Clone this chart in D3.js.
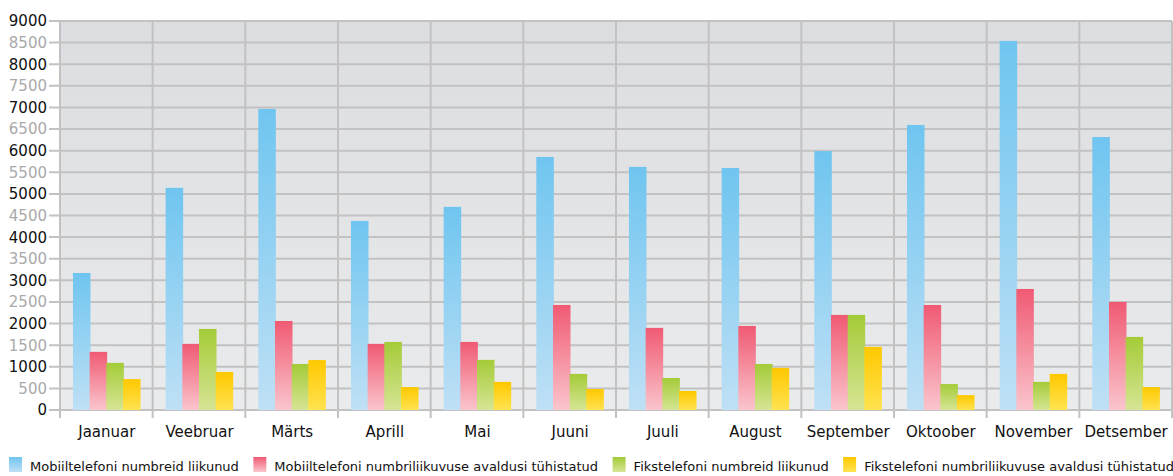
<!DOCTYPE html>
<html>
<head>
<meta charset="utf-8">
<script src="https://cdn.jsdelivr.net/npm/d3@7"></script>
<style>
  html, body { margin: 0; padding: 0; background: #fff; }
  svg { display: block; font-family: "DejaVu Sans", Verdana, sans-serif; }
</style>
</head>
<body>
<svg id="chart" width="1173" height="476"></svg>
<script>
// Monthly number porting statistics
const months = ["Jaanuar", "Veebruar", "Märts", "Aprill", "Mai", "Juuni", "Juuli", "August", "September", "Oktoober", "November", "Detsember"];
const seriesNames = [
  "Mobiiltelefoni numbreid liikunud",
  "Mobiiltelefoni numbriliikuvuse avaldusi tühistatud",
  "Fikstelefoni numbreid liikunud",
  "Fikstelefoni numbriliikuvuse avaldusi tühistatud"
];
const mobilePorted   = [3170, 5140, 6965, 4375, 4700, 5855, 5625, 5600, 5990, 6595, 8540, 6315];
const mobileCanceled = [1345, 1530, 2060, 1530, 1575, 2430, 1900, 1945, 2200, 2430, 2800, 2500];
const fixedPorted    = [1090, 1875, 1065, 1575, 1160, 835, 740, 1065, 2200, 600, 650, 1690];
const fixedCanceled  = [715, 880, 1155, 530, 650, 485, 440, 975, 1460, 345, 835, 530];
const yTicks = [0, 500, 1000, 1500, 2000, 2500, 3000, 3500, 4000, 4500, 5000, 5500, 6000, 6500, 7000, 7500, 8000, 8500, 9000];

const seriesValues = [mobilePorted, mobileCanceled, fixedPorted, fixedCanceled];
const palette = [
  { top: "#6fc5f0", bottom: "#bfe0f5" },
  { top: "#f05a73", bottom: "#fac5cd" },
  { top: "#a4cb38", bottom: "#d6e594" },
  { top: "#ffc800", bottom: "#ffe350" }
];

const svg = d3.select("#chart");
const margin = { left: 60, right: 1, top: 21, bottom: 66 };
const W = 1173, H = 476;
const plotW = W - margin.left - margin.right;
const plotH = H - margin.top - margin.bottom;

const x0 = d3.scaleBand().domain(months).range([margin.left, margin.left + plotW])
  .paddingInner(0.28).paddingOuter(0.14);
const x1 = d3.scaleBand().domain(d3.range(seriesNames.length)).range([0, x0.bandwidth()]);
const y = d3.scaleLinear().domain([0, 9000]).range([margin.top + plotH, margin.top]);

const defs = svg.append("defs");
const bg = defs.append("linearGradient").attr("id", "bg").attr("x1", 0).attr("y1", 0).attr("x2", 0).attr("y2", 1);
bg.append("stop").attr("offset", "0%").attr("stop-color", "#dcdde0");
bg.append("stop").attr("offset", "100%").attr("stop-color", "#eaebec");
palette.forEach((p, i) => {
  const g = defs.append("linearGradient").attr("id", "g" + i)
    .attr("x1", 0).attr("y1", 0).attr("x2", 0).attr("y2", 1);
  g.append("stop").attr("offset", "0%").attr("stop-color", p.top);
  g.append("stop").attr("offset", "100%").attr("stop-color", p.bottom);
});

// plot background
svg.append("rect")
  .attr("x", margin.left).attr("y", margin.top)
  .attr("width", plotW).attr("height", plotH)
  .attr("fill", "url(#bg)");

const gridColor = "#c2c2c3";
// horizontal grid + left ticks
svg.append("g").selectAll("line").data(yTicks).join("line")
  .attr("x1", margin.left - 11).attr("x2", margin.left + plotW)
  .attr("y1", d => y(d)).attr("y2", d => y(d))
  .attr("stroke", gridColor).attr("stroke-width", 2);

// vertical dividers between months, extending below the baseline as ticks
const bounds = months.map(m => x0(m) - x0.step() * x0.paddingOuter());
bounds.push(margin.left + plotW);
svg.append("g").selectAll("line").data(bounds).join("line")
  .attr("x1", d => d).attr("x2", d => d)
  .attr("y1", margin.top).attr("y2", margin.top + plotH + 8)
  .attr("stroke", gridColor).attr("stroke-width", 2);

// y tick labels
svg.append("g").selectAll("text").data(yTicks).join("text")
  .attr("x", 47).attr("y", d => y(d)).attr("dy", "0.36em")
  .attr("text-anchor", "end")
  .attr("font-size", 15)
  .attr("fill", d => d % 1000 === 0 ? "#111" : "#aaaaaa")
  .text(d => d);

// bars
const barW = x1.bandwidth() * 1.05;
const groups = svg.append("g").selectAll("g").data(months).join("g")
  .attr("transform", m => `translate(${x0(m)},0)`);
groups.selectAll("rect")
  .data((m, mi) => seriesValues.map((vals, si) => ({ si, v: vals[mi] })))
  .join("rect")
  .attr("x", d => x1(d.si))
  .attr("y", d => y(d.v))
  .attr("width", barW)
  .attr("height", d => y(0) - y(d.v))
  .attr("fill", d => `url(#g${d.si})`);

// month labels
svg.append("g").selectAll("text").data(months).join("text")
  .attr("x", m => x0(m) + x0.bandwidth() / 2 + 0.5)
  .attr("y", 437)
  .attr("text-anchor", "middle")
  .attr("font-size", 15)
  .attr("fill", "#111")
  .text(m => m);

// legend
const legend = svg.append("g");
let lx = 9;
seriesNames.forEach((name, i) => {
  legend.append("rect").attr("x", lx).attr("y", 457).attr("width", 13).attr("height", 15)
    .attr("fill", `url(#g${i})`);
  const t = legend.append("text").attr("x", lx + 21).attr("y", 471)
    .attr("font-size", 13).attr("fill", "#111").text(name);
  lx += 21 + t.node().getComputedTextLength() + 14.5;
});
</script>
</body>
</html>
